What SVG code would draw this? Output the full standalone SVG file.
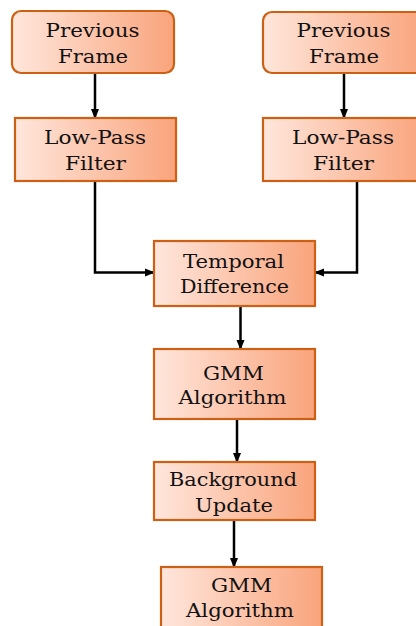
<svg xmlns="http://www.w3.org/2000/svg" width="416" height="626" viewBox="0 0 416 626">
<defs>
<linearGradient id="g" x1="0" y1="0" x2="1" y2="0">
<stop offset="0" stop-color="#FFE6DC"/>
<stop offset="1" stop-color="#F9A47C"/>
</linearGradient>
<marker id="ah" viewBox="0 0 10 10" refX="9" refY="5" markerWidth="4.2" markerHeight="4.2" orient="auto" markerUnits="strokeWidth">
<path d="M0,1 L10,5 L0,9 Z" fill="#000"/>
</marker>
<style>
.box{fill:url(#g);stroke:#CC6014;stroke-width:2.2}
.t{font-family:"DejaVu Serif","Liberation Serif",serif;font-size:18px;fill:#111;text-anchor:middle}
.c{fill:none;stroke:#000;stroke-width:2.5;marker-end:url(#ah)}
</style>
</defs>
<rect width="416" height="626" fill="#fff"/>
<g id="connectors">
<path class="c" d="M95,73 V118"/>
<path class="c" d="M344,73 V118"/>
<path class="c" d="M95,181 V272.5 H154"/>
<path class="c" d="M357,181 V272.5 H315"/>
<path class="c" d="M240.5,306 V349"/>
<path class="c" d="M237,419 V462"/>
<path class="c" d="M234,520 V567"/>
</g>
<g id="prevL">
<rect class="box" x="12" y="11" width="162" height="62" rx="9"/>
<text class="t" x="92.5" y="37" textLength="94" lengthAdjust="spacingAndGlyphs">Previous</text>
<text class="t" x="93" y="63" textLength="70" lengthAdjust="spacingAndGlyphs">Frame</text>
</g>
<g id="prevR">
<rect class="box" x="263" y="12" width="162" height="61" rx="9"/>
<text class="t" x="343.5" y="37" textLength="94" lengthAdjust="spacingAndGlyphs">Previous</text>
<text class="t" x="344" y="63" textLength="70" lengthAdjust="spacingAndGlyphs">Frame</text>
</g>
<g id="lpfL">
<rect class="box" x="15" y="118" width="161" height="63"/>
<text class="t" x="95" y="144" textLength="102" lengthAdjust="spacingAndGlyphs">Low-Pass</text>
<text class="t" x="95.5" y="170" textLength="61" lengthAdjust="spacingAndGlyphs">Filter</text>
</g>
<g id="lpfR">
<rect class="box" x="263" y="118" width="162" height="63"/>
<text class="t" x="343" y="144" textLength="102" lengthAdjust="spacingAndGlyphs">Low-Pass</text>
<text class="t" x="343.5" y="170" textLength="61" lengthAdjust="spacingAndGlyphs">Filter</text>
</g>
<g id="temporal">
<rect class="box" x="154" y="241" width="161" height="65"/>
<text class="t" x="233.5" y="268" textLength="101" lengthAdjust="spacingAndGlyphs">Temporal</text>
<text class="t" x="234.5" y="293" textLength="109" lengthAdjust="spacingAndGlyphs">Difference</text>
</g>
<g id="gmm1">
<rect class="box" x="154" y="349" width="161" height="70"/>
<text class="t" x="233.5" y="380" textLength="61" lengthAdjust="spacingAndGlyphs">GMM</text>
<text class="t" x="232.5" y="404" textLength="108" lengthAdjust="spacingAndGlyphs">Algorithm</text>
</g>
<g id="bg">
<rect class="box" x="154" y="462" width="161" height="58"/>
<text class="t" x="233" y="486" textLength="128" lengthAdjust="spacingAndGlyphs">Background</text>
<text class="t" x="234" y="512" textLength="78" lengthAdjust="spacingAndGlyphs">Update</text>
</g>
<g id="gmm2">
<rect class="box" x="161" y="567" width="161" height="70"/>
<text class="t" x="241.5" y="592" textLength="61" lengthAdjust="spacingAndGlyphs">GMM</text>
<text class="t" x="240" y="617" textLength="108" lengthAdjust="spacingAndGlyphs">Algorithm</text>
</g>
</svg>
